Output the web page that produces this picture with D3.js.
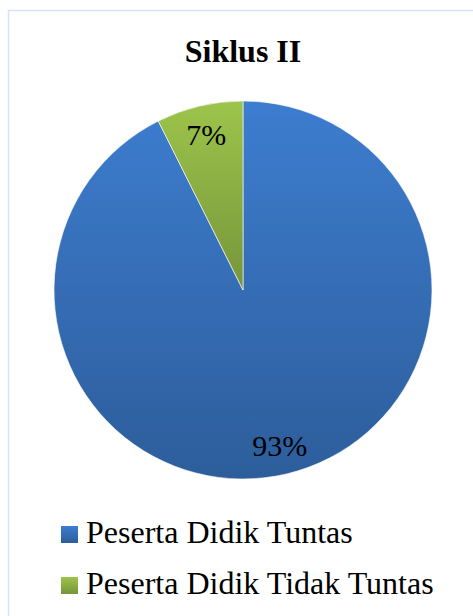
<!DOCTYPE html>
<html>
<head>
<meta charset="utf-8">
<script src="https://cdn.jsdelivr.net/npm/d3@7"></script>
<style>
  body { margin: 0; background: #fff; }
  svg { display: block; }
  text { font-family: "Liberation Serif", "Times New Roman", Times, "DejaVu Serif", serif; }
</style>
</head>
<body>
<div id="chart"></div>
<script>
// data (labels show rounded percentages)
var categories = ["Peserta Didik Tuntas", "Peserta Didik Tidak Tuntas"];
var values = [92.6, 7.4];
var labels = ["93%", "7%"];
var colorsTop = ["#3d7dcf", "#9dc44b"];
var colorsBottom = ["#2d5d9b", "#76953a"];

var width = 473, height = 616;
var cx = 243, cy = 290, radius = 189;

var svg = d3.select("#chart")
  .append("svg")
  .attr("width", width)
  .attr("height", height);

// chart area border
svg.append("rect")
  .attr("x", 8.5)
  .attr("y", 10.5)
  .attr("width", 480)
  .attr("height", 620)
  .attr("fill", "#fff")
  .attr("stroke", "#d6e3f5")
  .attr("stroke-width", 1.5);

// vertical gradients for each slice
var defs = svg.append("defs");
categories.forEach(function(c, i) {
  var g = defs.append("linearGradient")
    .attr("id", "grad" + i)
    .attr("x1", 0).attr("y1", 0)
    .attr("x2", 0).attr("y2", 1);
  g.append("stop").attr("offset", "0%").attr("stop-color", colorsTop[i]);
  g.append("stop").attr("offset", "100%").attr("stop-color", colorsBottom[i]);
});

// title
svg.append("text")
  .attr("x", cx)
  .attr("y", 62)
  .attr("text-anchor", "middle")
  .style("font-weight", "bold")
  .style("font-size", "32px")
  .text("Siklus II");

//==================
// pie
var pie = d3.pie().sort(null).value(function(d) { return d; });
var arc = d3.arc().innerRadius(0).outerRadius(radius);
var labelArc = d3.arc().innerRadius(160).outerRadius(160);

var g = svg.append("g")
  .attr("transform", "translate(" + cx + "," + cy + ")");

g.selectAll("path")
  .data(pie(values))
  .enter()
  .append("path")
  .attr("d", arc)
  .attr("fill", function(d, i) { return "url(#grad" + i + ")"; })
  .attr("stroke", "#fff")
  .attr("stroke-width", 0.6);

g.selectAll("text.lbl")
  .data(pie(values))
  .enter()
  .append("text")
  .attr("class", "lbl")
  .attr("transform", function(d) { return "translate(" + labelArc.centroid(d) + ")"; })
  .attr("text-anchor", "middle")
  .attr("dy", "0.35em")
  .style("font-size", "30px")
  .text(function(d, i) { return labels[i]; });

//==================
// legend
var legend = svg.selectAll("g.legend")
  .data(categories)
  .enter()
  .append("g")
  .attr("class", "legend")
  .attr("transform", function(d, i) { return "translate(61," + (526 + i * 51) + ")"; });

legend.append("rect")
  .attr("width", 17)
  .attr("height", 17)
  .attr("fill", function(d, i) { return "url(#grad" + i + ")"; });

legend.append("text")
  .attr("x", 25)
  .attr("y", 17)
  .style("font-size", "32px")
  .text(function(d) { return d; });
</script>
</body>
</html>
